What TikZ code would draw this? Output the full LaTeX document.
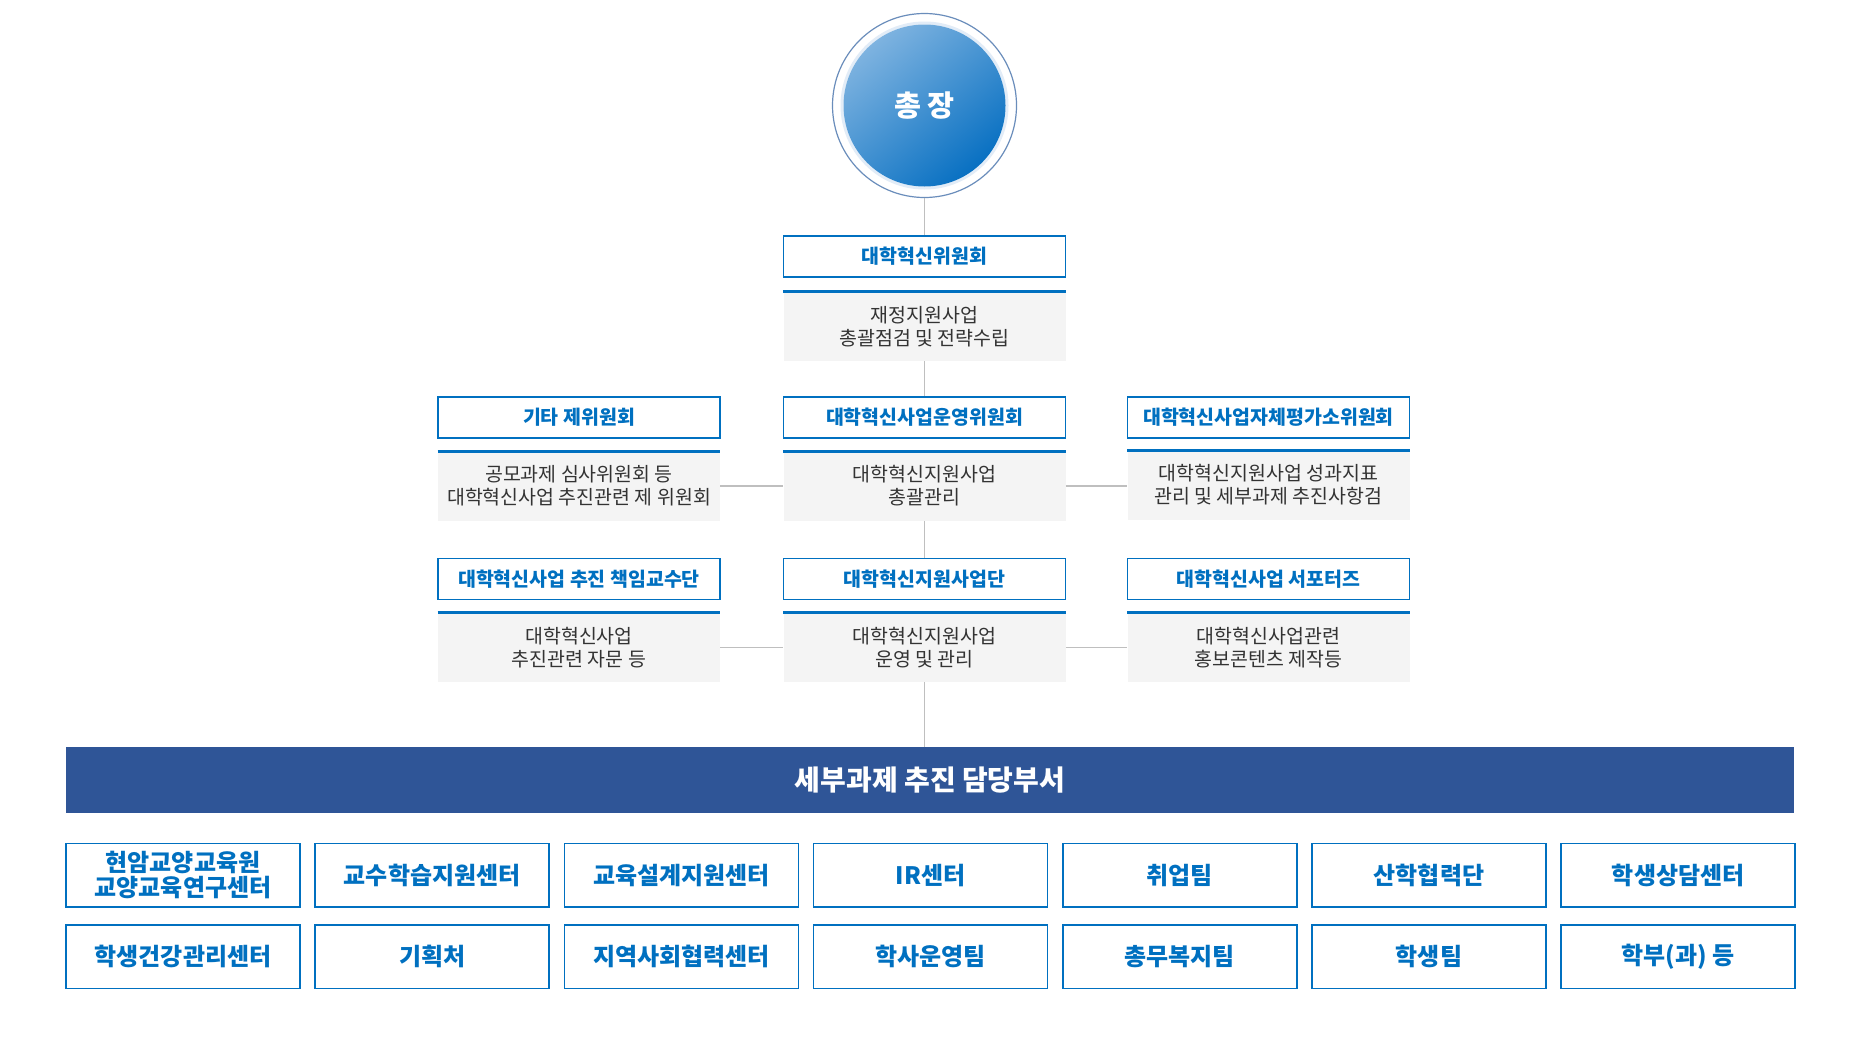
\documentclass[tikz,border=0pt]{standalone}
\usepackage{fontspec}
\newfontfamily\kr{Noto Sans CJK KR}
\usetikzlibrary{calc}
\newlength\upx
\setlength\upx{0.75pt}
\definecolor{cblue}{HTML}{0070C0}
\definecolor{cband}{HTML}{2F5597}
\definecolor{cgray}{HTML}{F4F4F4}
\definecolor{ctext}{HTML}{333333}
\definecolor{cline}{HTML}{BFBFBF}
\definecolor{cring}{HTML}{6A8DBB}
\definecolor{cglow}{HTML}{E2ECF7}
\definecolor{clight}{HTML}{7EB3E0}
\definecolor{cdisc}{HTML}{0870C2}
\begin{document}
\begin{tikzpicture}[x=0.75pt,y=-0.75pt,
  ttl/.style={draw=cblue, line width=1.5\upx, fill=white, minimum width=282\upx, minimum height=41\upx, inner sep=0pt, text=cblue, font=\kr\bfseries\fontsize{14.6pt}{17pt}\selectfont},
  desc/.style={fill=cgray, minimum width=282\upx, minimum height=69\upx, inner sep=0pt, text=ctext, align=center, font=\kr\fontsize{14.6pt}{17.25pt}\selectfont},
  dept/.style={draw=cblue, line width=1.5\upx, fill=white, minimum width=234\upx, minimum height=63.5\upx, inner sep=0pt, text=cblue, align=center, font=\kr\bfseries\fontsize{18pt}{20pt}\selectfont},
  conn/.style={draw=cline, line width=1.5\upx},
  topline/.style={draw=cblue, line width=3\upx}]
\useasboundingbox (0,0) rectangle (1859,1046);
% president circle
\node[circle, draw=cring, line width=1.2\upx, fill=white, minimum size=184\upx, inner sep=0pt] (pres) at (924.5,105.5) {};
\draw[cglow, line width=3\upx] (pres.center) circle[radius=82.5];
\shade[top color=clight, middle color=cdisc, bottom color=cdisc, shading angle=40] (pres.center) circle[radius=81];
\node[text=white, font=\kr\bfseries\fontsize{22pt}{26pt}\selectfont] (prestxt) at (pres.center) {총 장};
% central column
\node[ttl] (tA) at (924.5,256.5) {대학혁신위원회};
\node[desc] (dA) at (924.5,326.5) {재정지원사업\\총괄점검 및 전략수립};
\node[ttl] (tB) at (924.5,417.5) {대학혁신사업운영위원회};
\node[desc] (dB) at (924.5,486) {대학혁신지원사업\\총괄관리};
\node[ttl] (tC) at (924.5,579) {대학혁신지원사업단};
\node[desc] (dC) at (924.5,647.5) {대학혁신지원사업\\운영 및 관리};
% left column
\node[ttl] (tBl) at (579,417.5) {기타 제위원회};
\node[desc] (dBl) at (579,486) {공모과제 심사위원회 등\\대학혁신사업 추진관련 제 위원회};
\node[ttl] (tCl) at (579,579) {대학혁신사업 추진 책임교수단};
\node[desc] (dCl) at (579,647.5) {대학혁신사업\\추진관련 자문 등};
% right column
\node[ttl] (tBr) at (1268.5,417.5) {대학혁신사업자체평가소위원회};
\node[desc] (dBr) at (1268.5,485) {대학혁신지원사업 성과지표\\관리 및 세부과제 추진사항검};
\node[ttl] (tCr) at (1268.5,579) {대학혁신사업 서포터즈};
\node[desc] (dCr) at (1268.5,647.5) {대학혁신사업관련\\홍보콘텐츠 제작등};
% blue top lines of descriptions
\foreach \d in {dA,dB,dC,dBl,dCl,dBr,dCr}{\draw[topline] (\d.north west) -- (\d.north east);}
% band
\node[fill=cband, minimum width=1728\upx, minimum height=66\upx, inner sep=0pt, text=white, font=\kr\bfseries\fontsize{21pt}{24pt}\selectfont] (band) at (930,780) {세부과제 추진 담당부서};
% departments
\node[dept] (p1) at (183,875.25) {현암교양교육원\\[-1pt]교양교육연구센터};
\node[dept] (p2) at (432.2,875.25) {교수학습지원센터};
\node[dept] (p3) at (681.4,875.25) {교육설계지원센터};
\node[dept] (p4) at (930.6,875.25) {IR센터};
\node[dept] (p5) at (1179.8,875.25) {취업팀};
\node[dept] (p6) at (1429,875.25) {산학협력단};
\node[dept] (p7) at (1678.2,875.25) {학생상담센터};
\node[dept] (q1) at (183,956.5) {학생건강관리센터};
\node[dept] (q2) at (432.2,956.5) {기획처};
\node[dept] (q3) at (681.4,956.5) {지역사회협력센터};
\node[dept] (q4) at (930.6,956.5) {학사운영팀};
\node[dept] (q5) at (1179.8,956.5) {총무복지팀};
\node[dept] (q6) at (1429,956.5) {학생팀};
\node[dept] (q7) at (1678.2,956.5) {학부(과) 등};
% connectors
\draw[conn] (pres.south) -- (tA.north);
\draw[conn] (dA.south) -- (tB.north);
\draw[conn] (dB.south) -- (tC.north);
\draw[conn] (dC.south) -- (dC.south |- band.north);
\draw[conn] (dBl.east) -- (dB.west);
\draw[conn] (dB.east) -- (dBr.west |- dB.east);
\draw[conn] (dCl.east) -- (dC.west);
\draw[conn] (dC.east) -- (dCr.west);
\end{tikzpicture}
\end{document}
